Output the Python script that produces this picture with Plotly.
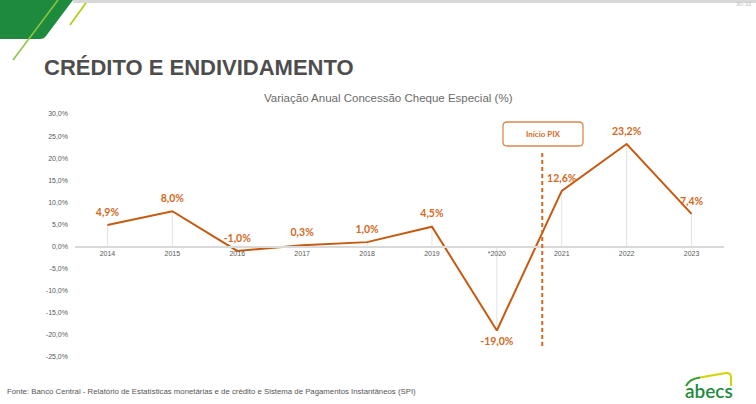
import plotly.graph_objects as go

# ---- data ----
years = ["2014", "2015", "2016", "2017", "2018", "2019", "*2020", "2021", "2022", "2023"]
variation = [4.9, 8.0, -1.0, 0.3, 1.0, 4.5, -19.0, 12.6, 23.2, 7.4]
y_ticks = [-25, -20, -15, -10, -5, 0, 5, 10, 15, 20, 25, 30]
y_tick_labels = [f"{v:.1f}%".replace(".", ",") for v in y_ticks]
point_labels = [f"{v:.1f}%".replace(".", ",") for v in variation]
label_positions = ["bottom center" if v < -10 else "top center" for v in variation]
pix_position = 6.7  # between *2020 and 2021

W, H = 756, 404
ML, MR, MT, MB = 75, 32, 114, 47
PW, PH = W - ML - MR, H - MT - MB
Y_MIN, Y_MAX = -25, 30

def px(x):
    return (x - ML) / PW

def py(y):
    return (H - MB - y) / PH

LINE = "#c55a11"
TXT = "#d2691e"

fig = go.Figure()

fig.add_trace(go.Scatter(
    x=list(range(len(years))), y=variation,
    mode="lines+markers+text",
    line=dict(color=LINE, width=2),
    marker=dict(size=9, color="rgba(0,0,0,0)"),
    text=point_labels, textposition=label_positions,
    textfont=dict(family="Lato", size=10.5, color=TXT, weight="bold"),
    hoverinfo="skip", cliponaxis=False,
))

shapes = []
# drop lines from axis to each point
for i, v in enumerate(variation):
    shapes.append(dict(type="line", xref="x", yref="y", x0=i, x1=i, y0=0, y1=v,
                       line=dict(color="#e2e2e2", width=1), layer="below"))

# PIX dashed marker
shapes.append(dict(type="line", xref="x", yref="paper", x0=pix_position, x1=pix_position,
                   y0=py(346), y1=py(150), line=dict(color=TXT, width=2, dash="4px,3px")))

# PIX rounded box
x0, x1, y0, y1, r = 503, 583, 122, 146, 4
path = (f"M {px(x0 + r)},{py(y0)} L {px(x1 - r)},{py(y0)} Q {px(x1)},{py(y0)} {px(x1)},{py(y0 + r)} "
        f"L {px(x1)},{py(y1 - r)} Q {px(x1)},{py(y1)} {px(x1 - r)},{py(y1)} "
        f"L {px(x0 + r)},{py(y1)} Q {px(x0)},{py(y1)} {px(x0)},{py(y1 - r)} "
        f"L {px(x0)},{py(y0 + r)} Q {px(x0)},{py(y0)} {px(x0 + r)},{py(y0)} Z")
shapes.append(dict(type="path", xref="paper", yref="paper", path=path,
                   line=dict(color="#d9884e", width=1.3), fillcolor="white"))

# slide chrome: green corner
g = (f"M {px(0)},{py(0)} L {px(73)},{py(0)} L {px(46)},{py(36)} Q {px(44)},{py(39)} {px(40)},{py(39)} "
     f"L {px(0)},{py(39)} Z")
shapes.append(dict(type="path", xref="paper", yref="paper", path=g,
                   fillcolor="#1e8a3e", line=dict(width=0)))
shapes.append(dict(type="line", xref="paper", yref="paper", x0=px(58), y0=py(0), x1=px(13), y1=py(60),
                   line=dict(color="#8dc63f", width=1.5)))
shapes.append(dict(type="line", xref="paper", yref="paper", x0=px(88), y0=py(0), x1=px(70), y1=py(25),
                   line=dict(color="#b5cc1a", width=1.8)))
# top shadow line
shapes.append(dict(type="line", xref="paper", yref="paper", x0=px(73), y0=py(1.5), x1=px(756), y1=py(1.5),
                   line=dict(color="#d8d8d8", width=3)))
# abecs logo arc (green part then yellow part)
arc_g = f"M {px(686)},{py(386)} Q {px(689)},{py(379)} {px(700)},{py(377.5)}"
arc_y = (f"M {px(700)},{py(377.5)} L {px(726)},{py(373)} Q {px(731)},{py(372.5)} {px(731)},{py(377)} "
         f"L {px(731)},{py(386)}")
shapes.append(dict(type="path", xref="paper", yref="paper", path=arc_g,
                   line=dict(color="#3a9a35", width=2)))
shapes.append(dict(type="path", xref="paper", yref="paper", path=arc_y,
                   line=dict(color="#d4d400", width=2)))

annotations = [
    dict(text="<b>CRÉDITO E ENDIVIDAMENTO</b>", x=px(42), y=py(67), xanchor="left", yanchor="middle",
         font=dict(family="Liberation Sans", size=22, color="#4d4d4d")),
    dict(text="Variação Anual Concessão Cheque Especial (%)", x=px(388), y=py(98), xanchor="center",
         yanchor="middle", font=dict(family="Liberation Sans", size=11.5, color="#6b6b6b")),
    dict(text="<b>Início PIX</b>", x=px(543.5), y=py(134), xanchor="center", yanchor="middle",
         font=dict(family="Lato", size=8, color=TXT)),
    dict(text="Fonte: Banco Central - Relatório de Estatísticas monetárias e de crédito e Sistema de Pagamentos Instantâneos (SPI)",
         x=px(5), y=py(391), xanchor="left", yanchor="middle",
         font=dict(family="Liberation Sans", size=7.8, color="#555555")),
    dict(text="abecs", x=px(709), y=py(404), xanchor="center", yanchor="bottom",
         font=dict(family="Lato", size=19, color="#1e8a3e", weight=600)),
    dict(text="30-32", x=px(744), y=py(4), xanchor="center", yanchor="middle",
         font=dict(family="Liberation Sans", size=6, color="#bbbbbb")),
]
for a in annotations:
    a.update(xref="paper", yref="paper", showarrow=False)

fig.update_layout(
    width=W, height=H,
    margin=dict(l=ML, r=MR, t=MT, b=MB),
    paper_bgcolor="white", plot_bgcolor="white",
    showlegend=False,
    shapes=shapes, annotations=annotations,
    xaxis=dict(
        range=[-0.5, len(years) - 0.5],
        tickmode="array", tickvals=list(range(len(years))), ticktext=years,
        anchor="free", position=(0 - Y_MIN) / (Y_MAX - Y_MIN),
        showline=True, linecolor="#d9d9d9", linewidth=1.5,
        showgrid=False, zeroline=False, ticks="",
        tickfont=dict(family="Liberation Sans", size=7, color="#595959"),
    ),
    yaxis=dict(
        range=[Y_MIN, Y_MAX],
        tickmode="array", tickvals=y_ticks, ticktext=y_tick_labels,
        showgrid=False, zeroline=False, showline=False, ticks="",
        ticklabelstandoff=6,
        tickfont=dict(family="Liberation Sans", size=7, color="#595959"),
    ),
)

fig.write_html("out.html", config={"displayModeBar": False},
               post_script="document.body.style.margin='0';document.body.style.overflow='hidden';")
